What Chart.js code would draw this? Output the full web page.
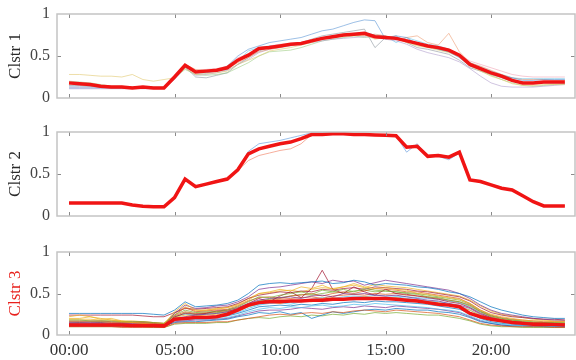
<!DOCTYPE html>
<html>
<head>
<meta charset="utf-8">
<script src="https://cdn.jsdelivr.net/npm/chart.js@4.4.1/dist/chart.umd.min.js"></script>
<style>
  html, body { margin: 0; padding: 0; background: #fff; }
  #wrap { position: relative; width: 576px; height: 360px; overflow: hidden; }
  canvas { position: absolute; left: 0; }
</style>
</head>
<body>
<div id="wrap">
  <canvas id="c1" width="576" height="108" style="top:0px"></canvas>
  <canvas id="c2" width="576" height="108" style="top:118px"></canvas>
  <canvas id="c3" width="576" height="122" style="top:238px"></canvas>
</div>
<script>
// hora del día (cada media hora)
const hours = [0,0.5,1,1.5,2,2.5,3,3.5,4,4.5,5,5.5,6,6.5,7,7.5,8,8.5,9,9.5,10,10.5,11,11.5,
               12,12.5,13,13.5,14,14.5,15,15.5,16,16.5,17,17.5,18,18.5,19,19.5,20,20.5,21,21.5,22,22.5,23,23.5];
const hourTicks = [0, 5, 10, 15, 20];
const yTicks = [0, 0.5, 1];
const yTickLabels = ["0", "0.5", "1"];
const panelTitles = ["Clstr 1", "Clstr 2", "Clstr 3"];

// centroides (línea roja)
const centroid1 = [.18,.17,.16,.14,.13,.13,.12,.13,.12,.12,.25,.39,.31,.32,.33,.36,.45,.51,.59,.60,.62,.64,.65,.68,
                   .71,.73,.75,.76,.77,.73,.72,.71,.68,.65,.62,.60,.57,.51,.40,.35,.30,.26,.21,.18,.18,.19,.19,.19];
const centroid2 = [.155,.155,.155,.155,.155,.155,.13,.115,.11,.11,.22,.44,.35,.38,.41,.44,.55,.74,.80,.83,.86,.88,.92,.97,
                   .97,.98,.98,.97,.97,.965,.96,.955,.82,.83,.71,.72,.70,.76,.43,.41,.37,.33,.31,.24,.17,.12,.12,.12];
const centroid3 = [.12,.12,.12,.12,.12,.12,.115,.115,.115,.11,.19,.20,.21,.21,.22,.25,.30,.36,.39,.40,.40,.41,.41,.42,
                   .42,.43,.43,.44,.44,.44,.44,.43,.42,.41,.39,.37,.36,.34,.26,.22,.19,.17,.15,.14,.13,.13,.125,.12];

// perfiles individuales de cada cluster
const members1 = [
  [.12,.12,.12,.12,.12,.12,.12,.12,.12,.12,.24,.38,.30,.30,.32,.38,.50,.58,.62,.66,.68,.70,.72,.76,.80,.82,.86,.90,.93,.92,.70,.74,.72,.64,.62,.58,.55,.48,.38,.34,.30,.27,.24,.21,.21,.22,.22,.22],
  [.16,.16,.15,.14,.13,.13,.13,.13,.12,.12,.26,.40,.34,.33,.34,.35,.42,.48,.55,.58,.60,.64,.66,.67,.70,.72,.74,.75,.74,.76,.74,.70,.72,.74,.66,.63,.77,.55,.42,.38,.33,.28,.24,.22,.22,.22,.21,.21],
  [.28,.28,.27,.26,.26,.25,.28,.22,.20,.22,.24,.35,.28,.29,.30,.32,.40,.45,.50,.56,.58,.60,.63,.66,.70,.72,.74,.74,.75,.70,.72,.71,.66,.62,.60,.57,.54,.49,.38,.32,.26,.22,.17,.15,.15,.16,.16,.16],
  [.11,.11,.11,.11,.11,.11,.11,.11,.11,.11,.22,.36,.27,.28,.30,.33,.40,.46,.54,.58,.60,.62,.64,.66,.68,.70,.71,.72,.73,.72,.70,.68,.64,.58,.54,.51,.48,.43,.35,.26,.18,.14,.13,.13,.13,.14,.15,.16],
  [.20,.19,.18,.16,.14,.14,.13,.13,.13,.13,.24,.34,.28,.27,.28,.30,.36,.42,.50,.55,.56,.57,.60,.64,.68,.70,.72,.74,.72,.74,.73,.71,.67,.63,.61,.58,.55,.50,.40,.33,.27,.22,.18,.15,.14,.15,.16,.17],
  [.15,.15,.14,.13,.12,.12,.12,.12,.12,.12,.23,.37,.25,.24,.27,.30,.40,.48,.56,.60,.62,.64,.66,.70,.74,.76,.78,.80,.82,.60,.72,.74,.66,.60,.58,.55,.52,.45,.36,.32,.28,.24,.20,.18,.18,.18,.18,.18],
  [.13,.13,.13,.13,.12,.12,.12,.12,.12,.12,.26,.40,.33,.34,.35,.38,.48,.52,.58,.62,.64,.65,.66,.68,.70,.72,.74,.75,.76,.74,.73,.72,.70,.66,.63,.61,.58,.52,.44,.40,.36,.32,.28,.26,.25,.25,.25,.25],
  [.14,.14,.14,.13,.13,.13,.12,.12,.12,.12,.24,.37,.31,.31,.32,.34,.44,.56,.60,.62,.63,.64,.66,.68,.72,.74,.76,.77,.78,.75,.74,.66,.72,.68,.64,.62,.58,.50,.42,.37,.32,.28,.24,.23,.23,.23,.23,.23]
];
const members1Colors = ["rgba(77,140,210,.55)","rgba(235,140,90,.5)","rgba(225,200,110,.6)","rgba(170,150,200,.55)",
                        "rgba(150,200,120,.55)","rgba(130,140,150,.55)","rgba(240,150,170,.5)","rgba(90,190,230,.55)"];

const members2 = [
  [.155,.155,.155,.155,.155,.155,.13,.115,.11,.11,.22,.44,.35,.38,.41,.44,.56,.77,.86,.88,.90,.93,.96,.99,.99,.99,.98,.97,.97,.965,.96,.955,.76,.86,.71,.71,.67,.75,.43,.41,.37,.33,.31,.24,.17,.12,.12,.12],
  [.155,.155,.155,.155,.155,.155,.13,.115,.11,.11,.22,.44,.35,.38,.41,.44,.54,.66,.72,.75,.78,.80,.86,.97,.97,.98,.98,.97,.97,.965,.96,.955,.84,.81,.72,.73,.71,.77,.43,.41,.37,.33,.31,.24,.17,.12,.12,.12]
];
const members2Colors = ["rgba(90,150,220,.6)","rgba(240,120,90,.6)"];

const members3 = [
  [.26,.26,.26,.26,.26,.26,.26,.26,.25,.24,.30,.40,.34,.35,.36,.38,.42,.50,.60,.62,.63,.62,.63,.64,.65,.62,.63,.66,.64,.60,.62,.61,.60,.58,.57,.55,.52,.50,.46,.40,.34,.30,.27,.24,.22,.21,.20,.20],
  [.10,.10,.10,.10,.10,.09,.09,.09,.09,.09,.14,.15,.15,.15,.16,.16,.18,.20,.22,.24,.25,.24,.26,.27,.26,.28,.27,.29,.30,.29,.28,.30,.29,.28,.27,.26,.24,.22,.18,.14,.12,.11,.10,.10,.10,.10,.09,.09],
  [.22,.24,.22,.20,.18,.16,.15,.14,.13,.13,.28,.38,.30,.30,.32,.33,.36,.42,.50,.52,.55,.53,.58,.56,.60,.55,.58,.62,.58,.56,.57,.55,.54,.50,.49,.47,.45,.43,.38,.30,.25,.22,.20,.18,.17,.17,.16,.16],
  [.14,.14,.14,.14,.13,.13,.13,.13,.12,.12,.20,.22,.24,.25,.26,.28,.32,.38,.42,.44,.45,.46,.44,.47,.48,.46,.50,.49,.50,.48,.47,.48,.46,.44,.42,.41,.38,.36,.32,.25,.20,.17,.15,.14,.13,.13,.13,.12],
  [.18,.18,.17,.17,.17,.16,.16,.16,.15,.14,.24,.30,.27,.28,.28,.30,.34,.40,.46,.45,.48,.50,.52,.49,.54,.52,.55,.52,.56,.54,.53,.52,.50,.49,.46,.45,.42,.40,.35,.28,.23,.20,.18,.17,.16,.15,.15,.15],
  [.11,.11,.11,.11,.11,.11,.11,.11,.10,.10,.17,.18,.19,.19,.20,.21,.24,.28,.31,.33,.32,.34,.33,.35,.36,.34,.35,.37,.36,.38,.37,.36,.35,.34,.33,.31,.30,.28,.23,.18,.15,.13,.12,.11,.11,.11,.10,.10],
  [.13,.13,.13,.13,.12,.12,.12,.12,.12,.11,.22,.26,.25,.26,.29,.30,.33,.38,.44,.40,.47,.52,.45,.56,.78,.55,.50,.58,.52,.48,.55,.50,.49,.47,.45,.43,.40,.38,.33,.26,.21,.18,.16,.15,.14,.14,.14,.13],
  [.12,.12,.12,.12,.12,.12,.12,.12,.11,.11,.15,.16,.16,.17,.18,.19,.22,.24,.27,.26,.28,.25,.27,.20,.24,.28,.26,.28,.30,.31,.30,.32,.31,.30,.30,.28,.27,.25,.21,.16,.14,.12,.11,.11,.11,.10,.10,.10],
  [.16,.16,.16,.16,.15,.15,.15,.15,.14,.13,.24,.33,.28,.29,.30,.31,.35,.41,.45,.46,.44,.47,.48,.50,.47,.50,.52,.50,.53,.56,.55,.54,.52,.52,.50,.48,.46,.44,.38,.30,.24,.21,.19,.18,.17,.16,.16,.16],
  [.20,.20,.22,.19,.20,.17,.15,.14,.13,.12,.21,.24,.23,.24,.25,.26,.29,.34,.38,.40,.38,.41,.42,.40,.43,.45,.42,.44,.46,.45,.44,.45,.43,.42,.40,.39,.36,.34,.30,.24,.19,.16,.15,.14,.14,.13,.13,.13],
  [.15,.15,.15,.15,.14,.14,.14,.14,.13,.12,.26,.36,.32,.33,.35,.36,.40,.46,.55,.57,.58,.60,.62,.64,.62,.66,.64,.65,.60,.63,.66,.64,.62,.60,.58,.56,.54,.50,.44,.36,.30,.26,.24,.22,.20,.19,.18,.18],
  [.10,.10,.10,.10,.10,.10,.10,.10,.09,.09,.13,.14,.14,.14,.15,.15,.18,.20,.21,.20,.22,.23,.22,.24,.23,.25,.24,.26,.25,.27,.26,.27,.26,.25,.24,.24,.22,.20,.17,.13,.11,.10,.10,.09,.09,.09,.09,.09],
  [.13,.13,.13,.13,.13,.12,.12,.12,.12,.11,.19,.21,.21,.22,.23,.24,.27,.32,.36,.38,.39,.37,.40,.42,.40,.42,.44,.42,.45,.43,.44,.46,.44,.43,.41,.40,.38,.35,.30,.23,.18,.15,.14,.13,.12,.12,.12,.12],
  [.24,.24,.24,.24,.24,.24,.24,.23,.22,.22,.27,.32,.31,.32,.33,.34,.38,.44,.48,.50,.52,.51,.53,.52,.55,.54,.56,.57,.55,.58,.57,.56,.55,.53,.52,.50,.48,.46,.41,.33,.27,.24,.22,.21,.20,.19,.19,.18],
  [.12,.12,.12,.12,.12,.12,.11,.11,.11,.10,.18,.20,.20,.21,.22,.23,.26,.30,.34,.35,.36,.35,.37,.36,.38,.37,.39,.40,.39,.41,.40,.40,.39,.38,.37,.35,.33,.31,.26,.20,.16,.14,.13,.12,.12,.11,.11,.11],
  [.17,.17,.17,.17,.16,.16,.16,.16,.15,.14,.23,.28,.26,.27,.28,.29,.31,.36,.40,.42,.43,.44,.45,.46,.44,.47,.48,.49,.48,.50,.49,.50,.48,.47,.46,.44,.42,.40,.36,.28,.22,.19,.17,.16,.15,.15,.15,.14],
  [.19,.19,.19,.18,.18,.17,.17,.16,.15,.14,.26,.34,.29,.30,.31,.33,.37,.44,.50,.51,.53,.54,.52,.55,.57,.56,.58,.60,.57,.61,.59,.58,.57,.55,.53,.51,.49,.47,.42,.35,.29,.25,.23,.21,.19,.18,.17,.17],
  [.11,.11,.11,.11,.11,.10,.10,.10,.10,.10,.16,.17,.18,.18,.19,.20,.23,.26,.29,.30,.30,.31,.33,.32,.31,.33,.34,.33,.35,.34,.33,.35,.34,.33,.32,.31,.29,.27,.22,.17,.14,.12,.11,.11,.10,.10,.10,.10],
  [.14,.15,.14,.15,.14,.14,.13,.13,.13,.12,.21,.27,.25,.26,.27,.28,.32,.37,.41,.43,.45,.47,.49,.48,.50,.52,.51,.53,.54,.52,.53,.52,.51,.50,.48,.46,.44,.42,.37,.29,.23,.20,.18,.16,.15,.14,.14,.14],
  [.16,.16,.16,.16,.16,.15,.15,.15,.14,.13,.22,.25,.24,.25,.26,.27,.30,.34,.37,.39,.40,.39,.41,.43,.45,.44,.46,.47,.46,.48,.47,.47,.46,.45,.44,.43,.41,.39,.34,.27,.21,.18,.16,.15,.14,.14,.13,.13]
];
const members3Colors = ["rgba(0,114,189,.7)","rgba(217,83,25,.7)","rgba(237,177,32,.7)","rgba(126,47,142,.7)",
                        "rgba(119,172,48,.7)","rgba(77,190,238,.7)","rgba(162,20,47,.7)"];

const SERIF = "'Liberation Serif', 'DejaVu Serif', serif";

// caja gris + marcas de eje hacia dentro, estilo MATLAB
const boxPlugin = {
  id: "box",
  afterDatasetsDraw(chart) {
    const { ctx, chartArea: a, scales } = chart;
    ctx.save();
    ctx.strokeStyle = "#8a8a8a";
    ctx.lineWidth = 1;
    ctx.beginPath();
    hourTicks.forEach(v => {
      const x = Math.round(scales.x.getPixelForValue(v)) + 0.5;
      ctx.moveTo(x, a.bottom); ctx.lineTo(x, a.bottom - 4);
      ctx.moveTo(x, a.top); ctx.lineTo(x, a.top + 4);
    });
    const y = Math.round(scales.y.getPixelForValue(0.5)) + 0.5;
    ctx.moveTo(a.left, y); ctx.lineTo(a.left + 4, y);
    ctx.moveTo(a.right, y); ctx.lineTo(a.right - 4, y);
    ctx.stroke();
    ctx.strokeStyle = "#c4c4c4";
    ctx.lineWidth = 1.5;
    ctx.strokeRect(a.left, a.top, a.right - a.left, a.bottom - a.top);
    ctx.restore();
  }
};

function makePanel(canvasId, centroid, members, colors, title, titleColor, showX) {
  const datasets = [{
    data: centroid.map((v, i) => ({ x: hours[i], y: v })),
    borderColor: "#f01414",
    borderWidth: 3.5,
    pointRadius: 0,
    tension: 0,
    order: 0
  }];
  members.forEach((m, k) => {
    datasets.push({
      data: m.map((v, i) => ({ x: hours[i], y: v })),
      borderColor: colors[k % colors.length],
      borderWidth: 1,
      pointRadius: 0,
      tension: 0,
      order: 1
    });
  });

  return new Chart(document.getElementById(canvasId), {
    type: "line",
    data: { datasets },
    plugins: [boxPlugin],
    options: {
      responsive: false,
      animation: false,
      devicePixelRatio: 1,
      layout: { autoPadding: false, padding: { top: 14, right: 1, bottom: showX ? 0 : 10, left: 0 } },
      plugins: { legend: { display: false }, tooltip: { enabled: false } },
      scales: {
        x: {
          type: "linear",
          min: -0.57,
          max: 23.98,
          display: showX,
          afterBuildTicks: (s) => { s.ticks = hourTicks.map(v => ({ value: v })); },
          afterFit: (s) => {
            s.height = showX ? 25 : 0;
            s.paddingLeft = 0; s.paddingRight = 0;
          },
          ticks: {
            callback: (v) => String(v).padStart(2, "0") + ":00",
            font: { family: SERIF, size: 17 },
            color: "#333",
            padding: 5,
            maxRotation: 0
          },
          grid: { display: false, drawTicks: false },
          border: { display: false }
        },
        y: {
          min: 0,
          max: 1,
          afterBuildTicks: (s) => { s.ticks = yTicks.map(v => ({ value: v })); },
          afterFit: (s) => {
            s.width = 57;
            s.paddingTop = 0; s.paddingBottom = 0;
          },
          ticks: {
            callback: (v) => yTickLabels[yTicks.indexOf(v)],
            font: { family: SERIF, size: 16 },
            color: "#444",
            padding: 7
          },
          grid: { display: false, drawTicks: false },
          border: { display: false },
          title: {
            display: true,
            text: title,
            color: titleColor,
            font: { family: SERIF, size: 17 },
            padding: { top: 5, bottom: 0 }
          }
        }
      }
    }
  });
}

makePanel("c1", centroid1, members1, members1Colors, panelTitles[0], "#2a2a2a", false);
makePanel("c2", centroid2, members2, members2Colors, panelTitles[1], "#2a2a2a", false);
makePanel("c3", centroid3, members3, members3Colors, panelTitles[2], "#e8201c", true);
</script>
</body>
</html>
